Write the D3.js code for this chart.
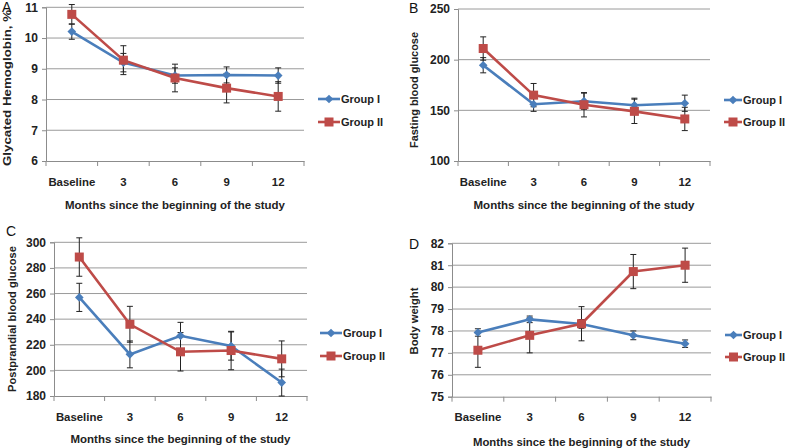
<!DOCTYPE html>
<html><head><meta charset="utf-8">
<script src="https://cdn.jsdelivr.net/npm/d3@7"></script>
<style>
body{margin:0;background:#fff;}
svg{display:block;font-family:"Liberation Sans",Arial,sans-serif;}
</style></head>
<body><svg id="c" width="788" height="448"></svg>
<script>
const categories = ["Baseline","3","6","9","12"];
const seriesNames = ["Group I","Group II"];
const xTitle = "Months since the beginning of the study";

const hbaTicks = [6,7,8,9,10,11];
const hbaG1 = [10.21,9.2,8.78,8.8,8.78];
const hbaG1Err = [0.25,0.3,0.25,0.26,0.25];
const hbaG2 = [10.77,9.28,8.7,8.37,8.1];
const hbaG2Err = [0.32,0.47,0.45,0.48,0.48];

const fbgTicks = [100,150,200,250];
const fbgG1 = [194.5,156,159,155,157];
const fbgG1Err = [7.5,7,8,7,8];
const fbgG2 = [211,165,155.5,149,141.5];
const fbgG2Err = [11.5,11.5,12,12,11.5];

const ppgTicks = [180,200,220,240,260,280,300];
const ppgG1 = [257,212.5,227,219,190.5];
const ppgG1Err = [11,10.5,10.5,11,10.5];
const ppgG2 = [288.5,236,214.5,215.5,209];
const ppgG2Err = [15,14,15,15,14];

const bwTicks = [75,76,77,78,79,80,81,82];
const bwG1 = [77.93,78.53,78.32,77.8,77.42];
const bwG1Err = [0.17,0.15,0.2,0.2,0.17];
const bwG2 = [77.12,77.8,78.33,80.71,81.0];
const bwG2Err = [0.78,0.8,0.78,0.78,0.78];

const colors = ["#4a7ebb","#be4b48"];
const svg = d3.select("#c");

const panels = [
  {letter:"A", lx:2, ly:12, box:[46,304,7.3,161], ticks:hbaTicks, ylabel:"Glycated Hemoglobin, %", ylx:11, yly:88, ylen:156,
   g1:hbaG1, e1:hbaG1Err, g2:hbaG2, e2:hbaG2Err, legX:318, legW:22, legY:[99,122], tickY:186, titleY:209, tlen:220},
  {letter:"B", lx:409, ly:13, box:[458,710,9,161], ticks:fbgTicks, ylabel:"Fasting blood glucose", ylx:418, yly:90, ylen:116,
   g1:fbgG1, e1:fbgG1Err, g2:fbgG2, e2:fbgG2Err, legX:724, legW:18, legY:[100,122], tickY:186, titleY:209, tlen:221},
  {letter:"C", lx:6, ly:236, box:[54,307,242.3,396], ticks:ppgTicks, ylabel:"Postprandial blood glucose", ylx:16, yly:319, ylen:146,
   g1:ppgG1, e1:ppgG1Err, g2:ppgG2, e2:ppgG2Err, legX:320, legW:22, legY:[333,356], tickY:421, titleY:443, tlen:220},
  {letter:"D", lx:409, ly:249, box:[452,711,243.3,396.7], ticks:bwTicks, ylabel:"Body weight", ylx:418, yly:321, ylen:67,
   g1:bwG1, e1:bwG1Err, g2:bwG2, e2:bwG2Err, legX:725, legW:17, legY:[335,357], tickY:421, titleY:446, tlen:217}
];

function marker(g, type, x, y, color, s){
  if(type===0){
    g.append("path").attr("d", d3.symbol().type(d3.symbolDiamond2 || d3.symbolDiamond).size(s*6)())
      .attr("transform",`translate(${x},${y})`).attr("fill",color);
  } else {
    g.append("rect").attr("x",x-s/2).attr("y",y-s/2).attr("width",s).attr("height",s).attr("fill",color);
  }
}

panels.forEach(p=>{
  const [L,R,T,B] = p.box;
  const g = svg.append("g");
  const x = d3.scaleBand().domain(categories).range([L,R]);
  const y = d3.scaleLinear().domain([d3.min(p.ticks), d3.max(p.ticks)]).range([B,T]);

  g.selectAll(".grid").data(p.ticks.slice(1)).enter().append("line")
    .attr("x1",L).attr("x2",R).attr("y1",d=>y(d)).attr("y2",d=>y(d))
    .attr("stroke","#9a9a9a").attr("stroke-width",1);

  const ya = g.append("g").attr("transform",`translate(${L},0)`)
    .call(d3.axisLeft(y).tickValues(p.ticks).tickFormat(d3.format("d")).tickSize(4).tickPadding(4));
  ya.select(".domain").attr("stroke","#8c8c8c");
  ya.selectAll(".tick line").attr("stroke","#8c8c8c");
  ya.selectAll("text").attr("font-size",12).attr("font-weight","bold").attr("fill","#222");

  const xa = g.append("g").attr("transform",`translate(0,${B})`)
    .call(d3.axisBottom(x).tickSize(0).tickPadding(0));
  xa.select(".domain").attr("stroke","#8c8c8c");
  xa.selectAll(".tick text").attr("font-size",11.4).attr("font-weight","bold").attr("fill","#222")
    .attr("y",p.tickY-B).attr("dy",0);
  const bounds = categories.map(c=>x(c)).concat([R]);
  g.selectAll(".xt").data(bounds).enter().append("line")
    .attr("x1",d=>d).attr("x2",d=>d).attr("y1",B).attr("y2",B+5).attr("stroke","#8c8c8c");

  g.append("text").attr("x",(L+R)/2).attr("y",p.titleY).attr("text-anchor","middle")
    .attr("font-size",11.8).attr("font-weight","bold").attr("fill","#222")
    .attr("textLength",p.tlen).attr("lengthAdjust","spacingAndGlyphs")
    .text(xTitle);
  g.append("text").attr("transform",`translate(${p.ylx},${p.yly}) rotate(-90)`).attr("text-anchor","middle")
    .attr("font-size",11.8).attr("font-weight","bold").attr("fill","#222")
    .attr("textLength",p.ylen).attr("lengthAdjust","spacingAndGlyphs").text(p.ylabel);
  g.append("text").attr("x",p.lx).attr("y",p.ly).attr("font-size",14).attr("fill","#111").text(p.letter);

  const cx = c=>x(c)+x.bandwidth()/2;
  const series = [[p.g1,p.e1],[p.g2,p.e2]];
  series.forEach(([vals,errs],si)=>{
    const pts = categories.map((c,i)=>[cx(c),y(vals[i])]);
    g.append("path").attr("d",d3.line()(pts)).attr("fill","none")
      .attr("stroke",colors[si]).attr("stroke-width",2.6);
  });
  series.forEach(([vals,errs],si)=>{
    categories.forEach((c,i)=>{
      const xx=cx(c), yt=y(vals[i]+errs[i]), yb=y(vals[i]-errs[i]);
      g.append("line").attr("x1",xx).attr("x2",xx).attr("y1",yt).attr("y2",yb).attr("stroke","#222").attr("stroke-width",1);
      [yt,yb].forEach(yy=>g.append("line").attr("x1",xx-3).attr("x2",xx+3).attr("y1",yy).attr("y2",yy).attr("stroke","#222").attr("stroke-width",1));
    });
  });
  series.forEach(([vals,errs],si)=>{
    categories.forEach((c,i)=>marker(g,si,cx(c),y(vals[i]),colors[si],si===0?8:9));
  });

  seriesNames.forEach((n,si)=>{
    const ly=p.legY[si];
    g.append("line").attr("x1",p.legX).attr("x2",p.legX+p.legW).attr("y1",ly).attr("y2",ly)
      .attr("stroke",colors[si]).attr("stroke-width",2.6);
    marker(g,si,p.legX+p.legW/2,ly,colors[si],si===0?8:9);
    g.append("text").attr("x",p.legX+p.legW+1).attr("y",ly+4.2).attr("font-size",11).attr("font-weight","bold")
      .attr("fill","#222").text(n);
  });
});
</script></body></html>
